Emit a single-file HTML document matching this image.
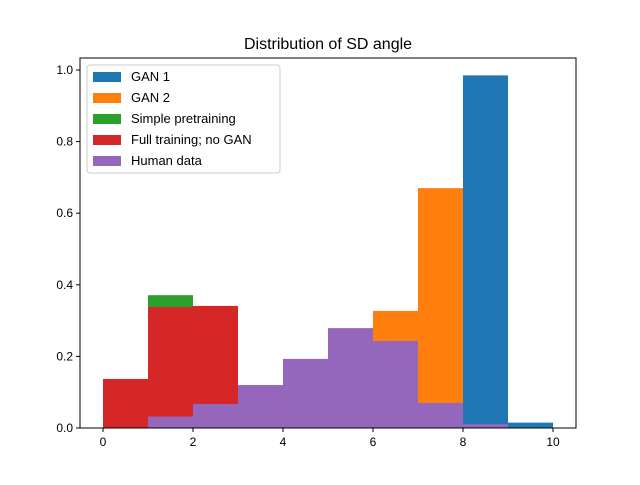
<!DOCTYPE html>
<html><head><meta charset="utf-8"><style>body{margin:0;background:#fff}svg{font-family:"Liberation Sans","DejaVu Sans",sans-serif}</style></head>
<body>
<svg width="640" height="480" viewBox="0 0 640 480">
<rect x="0" y="0" width="640" height="480" fill="#fff"/>
<g id="bars"></g>
<g id="axes"></g>
<text x="328" y="49" text-anchor="middle" font-size="16">Distribution of SD angle</text>
<g id="legend"></g>
</svg>
<script>
const binEdges = [0,1,2,3,4,5,6,7,8,9,10];
const seriesNames = ["GAN 1","GAN 2","Simple pretraining","Full training; no GAN","Human data"];
const seriesColors = ["#1f77b4","#ff7f0e","#2ca02c","#d62728","#9467bd"];
const gan1 = [0,0,0,0,0,0,0,0,0.985,0.015];
const gan2 = [0,0,0,0,0,0,0.327,0.67,0,0];
const simple = [0,0.371,0.3,0,0,0,0,0,0,0];
const fullTraining = [0.137,0.338,0.341,0,0,0,0,0,0,0];
const human = [0,0.032,0.067,0.12,0.193,0.279,0.243,0.07,0.011,0];
const xTicks = [0,2,4,6,8,10];
const yTicks = [0,0.2,0.4,0.6,0.8,1.0];
const yTickLabels = ["0.0","0.2","0.4","0.6","0.8","1.0"];
const X0=80,X1=576,Y0=58,Y1=428;
const xs=v=>103+v*45;
const ys=v=>428-v*358;
const NS="http://www.w3.org/2000/svg";
function mk(t,a,p){const e=document.createElementNS(NS,t);for(const k in a)e.setAttribute(k,a[k]);p.appendChild(e);return e;}
const bars=document.getElementById('bars');
[gan1,gan2,simple,fullTraining,human].forEach((s,si)=>{
  s.forEach((v,i)=>{
    if(v<=0)return;
    const r=mk('rect',{x:xs(binEdges[i]),y:ys(v),width:xs(binEdges[i+1])-xs(binEdges[i]),height:ys(0)-ys(v),fill:seriesColors[si]},bars);
    
    
  });
});
const ax=document.getElementById('axes');
const fr=mk('rect',{x:X0,y:Y0,width:X1-X0,height:Y1-Y0,fill:'none',stroke:'#000','stroke-width':1},ax);


xTicks.forEach(t=>{
  mk('line',{x1:xs(t),x2:xs(t),y1:Y1,y2:Y1+4,stroke:'#000'},ax);
  const tx=mk('text',{x:xs(t),y:Y1+18,'text-anchor':'middle','font-size':12},ax);tx.textContent=t;
  
  
});
yTicks.forEach((t,i)=>{
  mk('line',{x1:X0-4,x2:X0,y1:ys(t),y2:ys(t),stroke:'#000'},ax);
  const tx=mk('text',{x:X0-7,y:ys(t)+4,'text-anchor':'end','font-size':12},ax);tx.textContent=yTickLabels[i];
  
  
});
const lg=document.getElementById('legend');
mk('rect',{x:87,y:65,width:193,height:108,rx:3,fill:'#fff','fill-opacity':0.8,stroke:'#ccc'},lg);
seriesNames.forEach((n,i)=>{
  const y=76+i*21;
  const sw=mk('rect',{x:93,y:y-4,width:28,height:10,fill:seriesColors[i]},lg);
  
  
  const tx=mk('text',{x:131,y:y+5,'font-size':13},lg);tx.textContent=n;
  
  
});
</script>
</body></html>
